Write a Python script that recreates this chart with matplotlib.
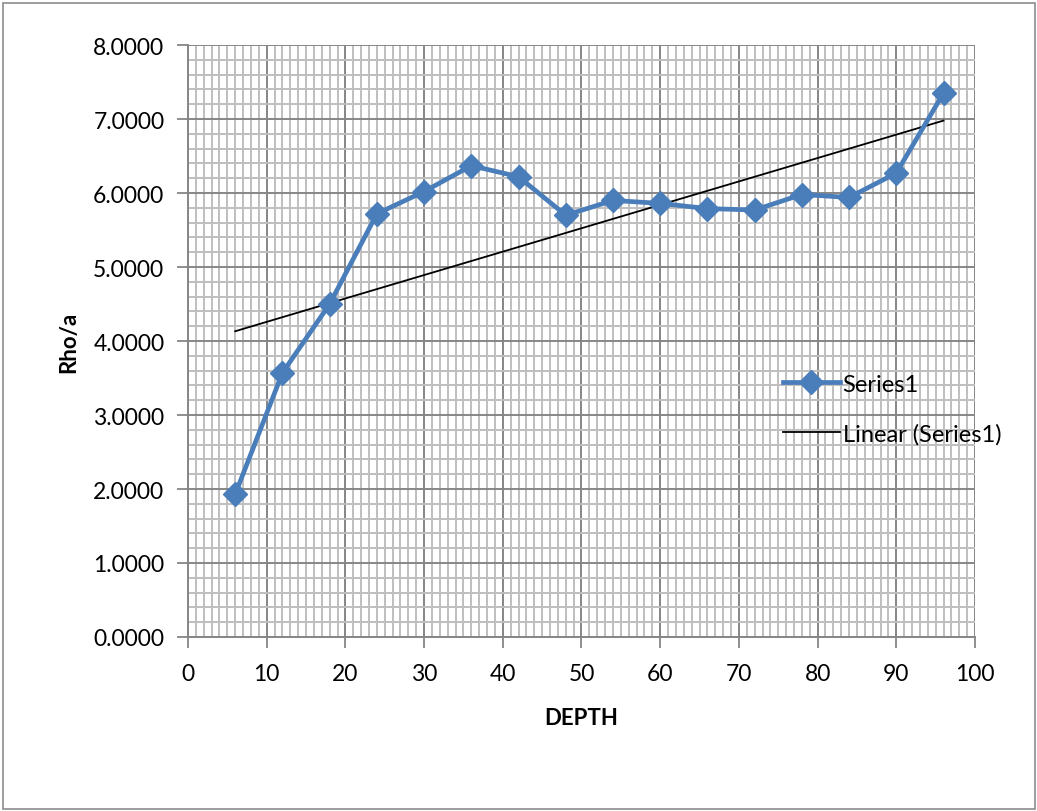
import numpy as np
import matplotlib.pyplot as plt
from matplotlib.patches import Rectangle
from matplotlib.ticker import MultipleLocator, FormatStrFormatter

# ---- data ----
depth = [6, 12, 18, 24, 30, 36, 42, 48, 54, 60, 66, 72, 78, 84, 90, 96]
rho_a = [1.93, 3.57, 4.50, 5.72, 6.02, 6.37, 6.22, 5.70,
         5.90, 5.86, 5.79, 5.77, 5.98, 5.94, 6.27, 7.35]

BLUE = "#4A7EBB"
FONT = ["Lato", "DejaVu Sans"]
plt.rcParams["font.family"] = FONT

fig = plt.figure(figsize=(10.37, 8.12), dpi=100)
ax = fig.add_axes([0.1813, 0.2143, 0.9402 - 0.1813, 0.9433 - 0.2143])

# chart border
fig.patches.append(Rectangle((0.003, 0.002), 0.995, 0.993, transform=fig.transFigure,
                             fill=False, ec="#8c8c8c", lw=1.2))

ax.plot(depth, rho_a, color=BLUE, lw=3.4, marker="D", ms=12.5, mfc=BLUE, mec=BLUE,
        label="Series1", zorder=4)

# linear trendline (least squares fit of the series)
k, b = np.polyfit(depth, rho_a, 1)
xs = np.array([depth[0], depth[-1]])
ax.plot(xs, k * xs + b, color="black", lw=1.3, label="Linear (Series1)", zorder=3)

ax.set_xlim(0, 100)
ax.set_ylim(0, 8)
ax.xaxis.set_major_locator(MultipleLocator(10))
ax.xaxis.set_minor_locator(MultipleLocator(1))
ax.yaxis.set_major_locator(MultipleLocator(1))
ax.yaxis.set_minor_locator(MultipleLocator(0.2))
ax.yaxis.set_major_formatter(FormatStrFormatter("%.4f"))

ax.grid(which="major", color="#868686", lw=1.4, zorder=1)
ax.grid(which="minor", color="#bfbfbf", lw=1.4, zorder=0)
ax.set_axisbelow(True)
for s in ["top", "right"]:
    ax.spines[s].set_visible(False)
for s in ["left", "bottom"]:
    ax.spines[s].set_color("#868686")
    ax.spines[s].set_linewidth(1.4)

ax.tick_params(which="major", length=8, width=1.3, color="#868686", labelsize=16.5)
ax.tick_params(axis="x", which="major", pad=11)
ax.tick_params(axis="y", which="major", pad=9)
ax.tick_params(which="minor", length=0)

ax.set_xlabel("DEPTH", fontsize=16, fontweight="bold", labelpad=16)
ax.set_ylabel("Rho/a", fontsize=16, fontweight="bold", labelpad=10)

ax.legend(loc="upper left", bbox_to_anchor=(0.756, 0.445), frameon=False, fontsize=17,
          handlelength=2.4, handletextpad=0.13, labelspacing=1.2, borderaxespad=0,
          borderpad=0)

fig.savefig("out.png", dpi=100)
